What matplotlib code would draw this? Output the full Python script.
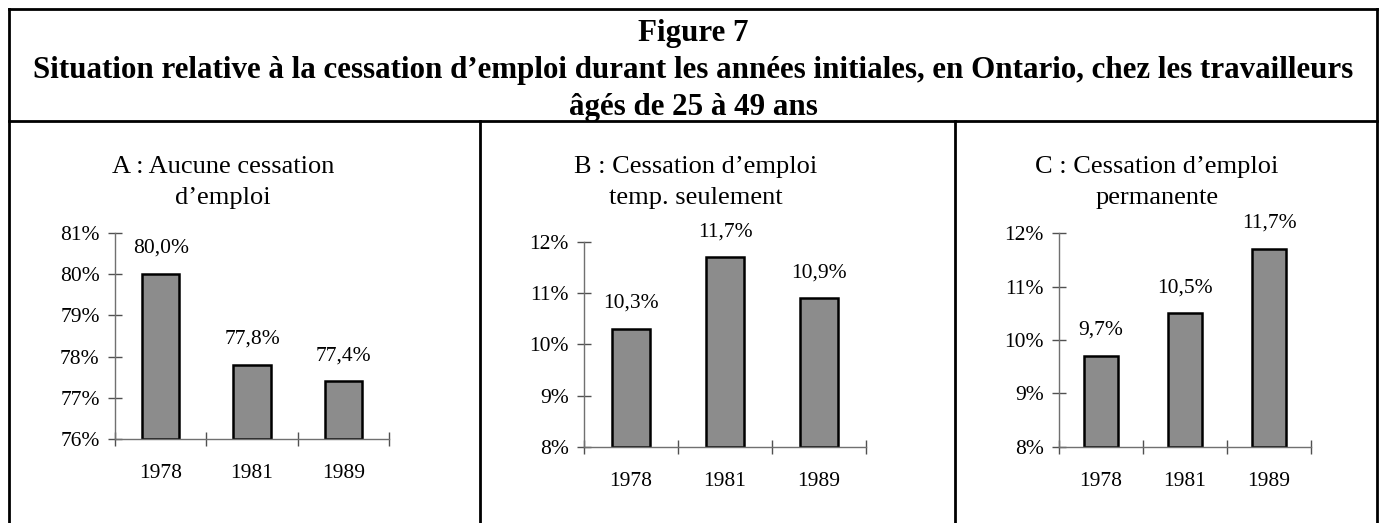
import matplotlib
matplotlib.use('Agg')
import matplotlib.pyplot as plt
from matplotlib.lines import Line2D

plt.rcParams['font.family'] = ['Liberation Serif', 'DejaVu Serif']

# données
annees = ['1978', '1981', '1989']
aucune = [80.0, 77.8, 77.4]
temporaire = [10.3, 11.7, 10.9]
permanente = [9.7, 10.5, 11.7]

titre = ("Figure 7\n"
         "Situation relative à la cessation d’emploi durant les années initiales, "
         "en Ontario, chez les travailleurs\n"
         "âgés de 25 à 49 ans")
sous_titres = ["A : Aucune cessation\nd’emploi",
               "B : Cessation d’emploi\ntemp. seulement",
               "C : Cessation d’emploi\npermanente"]

W, H = 1379, 523
fig = plt.figure(figsize=(W / 100, H / 100), dpi=100)


def fx(x):
    return x / W


def fy(y):
    return 1 - y / H


def ligne(x0, y0, x1, y1):
    fig.add_artist(Line2D([fx(x0), fx(x1)], [fy(y0), fy(y1)], color='black',
                          lw=2, transform=fig.transFigure, solid_capstyle='projecting'))


# cadre du tableau
ligne(9, 9, 1377, 9)
ligne(9, 121, 1377, 121)
ligne(9, 9, 9, 523)
ligne(1377, 9, 1377, 523)
ligne(480, 121, 480, 523)
ligne(955, 121, 955, 523)

fig.text(fx(693), fy(70.5), titre, ha='center', va='center', fontsize=22.3,
         fontweight='bold', linespacing=1.38)


def panneau(left, right, top, bottom, ymin, ymax, valeurs, st, stx):
    ax = fig.add_axes([fx(left), fy(bottom), fx(right - left), (bottom - top) / H])
    x = range(len(annees))
    ax.bar(x, [v - ymin for v in valeurs], width=0.41, bottom=ymin, color='#8c8c8c',
           edgecolor='black', linewidth=1.8)
    ax.set_xlim(-0.5, len(annees) - 0.5)
    ax.set_ylim(ymin, ymax)
    for s in ['top', 'right']:
        ax.spines[s].set_visible(False)
    for s in ['left', 'bottom']:
        ax.spines[s].set_color('#707070')
        ax.spines[s].set_linewidth(1.0)
    ax.set_yticks(range(ymin, ymax + 1))
    ax.set_yticklabels([f'{v}%' for v in range(ymin, ymax + 1)])
    ax.set_xticks([i - 0.5 for i in range(len(annees) + 1)])
    ax.set_xticklabels([])
    ax.set_xticks(list(x), minor=True)
    ax.set_xticklabels(annees, minor=True)
    ax.tick_params(axis='both', which='major', direction='inout', length=10,
                   width=1, color='#505050', labelsize=15.5, pad=6)
    ax.tick_params(axis='x', which='minor', length=0, labelsize=15.5, pad=18)
    for i, v in enumerate(valeurs):
        ax.annotate(f'{v:.1f}%'.replace('.', ','), (i, v), xytext=(0, 18.5),
                    textcoords='offset points', ha='center', va='center',
                    fontsize=15.5, annotation_clip=False)
    fig.text(fx(stx), fy(182.5), st, ha='center', va='center', fontsize=19,
             linespacing=1.58)
    return ax


panneau(115, 389, 233, 439, 76, 81, aucune, sous_titres[0], 223)
panneau(584, 866, 242, 447, 8, 12, temporaire, sous_titres[1], 696)
panneau(1059, 1311, 233, 447, 8, 12, permanente, sous_titres[2], 1157)

fig.savefig('out.png', dpi=100)
